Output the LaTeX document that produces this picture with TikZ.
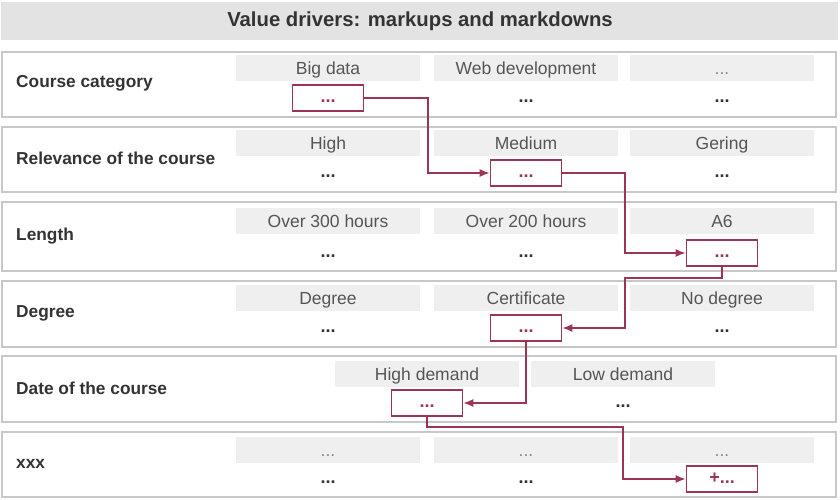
\documentclass[tikz,border=0pt]{standalone}
\usepackage{fontspec}
\setmainfont{Liberation Sans}
\usetikzlibrary{positioning,arrows.meta}
\definecolor{maroon}{HTML}{9C3552}
\definecolor{barfill}{HTML}{E3E3E3}
\definecolor{cellfill}{HTML}{EFEFEF}
\definecolor{rowline}{HTML}{C8C8C8}
\definecolor{darktext}{HTML}{333333}
\definecolor{celltext}{HTML}{555555}
\definecolor{faint}{HTML}{888888}

\tikzset{
  rowbox/.style={draw=rowline,line width=1.2pt},
  rowlabel/.style={anchor=west,inner sep=0pt,text=darktext,font=\fontsize{17.3}{18}\selectfont\bfseries},
  cell/.style={fill=cellfill,minimum width=184pt,minimum height=26pt,inner sep=0pt,text height=14.5pt,text depth=1.5pt,text=celltext,font=\fontsize{17.5}{18}\selectfont},
  dots/.style={minimum width=71pt,minimum height=26pt,inner sep=0pt,text height=8.5pt,text depth=0pt,text=darktext,font=\fontsize{18}{18}\selectfont\bfseries},
  pick/.style={dots,draw=maroon,line width=1.6pt,text=maroon},
  link/.style={maroon,line width=1.6pt,-{Latex[length=10pt,width=8pt]}}
}

\begin{document}
\begin{tikzpicture}[x=1pt,y=-1pt]
\useasboundingbox (0,0) rectangle (840,500);

% title
\fill[barfill] (1,2) rectangle (838,40);
\node (title) at (420,21) [text=darktext,font=\fontsize{20.3}{21}\selectfont\bfseries] {Value drivers: markups and markdowns};

% rows
\draw[rowbox] (2,52) rectangle (836,117);
\draw[rowbox] (2,127) rectangle (836,192);
\draw[rowbox] (2,202) rectangle (836,271);
\draw[rowbox] (2,281) rectangle (836,347);
\draw[rowbox] (2,356) rectangle (836,422);
\draw[rowbox] (2,432) rectangle (836,497);

\node[rowlabel] (lab1) at (16,83) {Course category};
\node[rowlabel] (lab2) at (16,158) {Relevance of the course};
\node[rowlabel] (lab3) at (16,236) {Length};
\node[rowlabel] (lab4) at (16,313) {Degree};
\node[rowlabel] (lab5) at (16,388) {Date of the course};
\node[rowlabel] (lab6) at (16,464) {xxx};

% course category
\node[cell] (c11) at (328,68) {Big data};
\node[cell] (c12) at (526,68) {Web development};
\node[cell,text=faint] (c13) at (722,68) {...};
\node[pick] (p1) at (328,98) {...};
\node[dots] (d12) at (526,98) {...};
\node[dots] (d13) at (722,98) {...};

% relevance
\node[cell] (c21) at (328,143) {High};
\node[cell] (c22) at (526,143) {Medium};
\node[cell] (c23) at (722,143) {Gering};
\node[dots] (d21) at (328,173) {...};
\node[pick] (p2) at (526,173) {...};
\node[dots] (d23) at (722,173) {...};

% length
\node[cell] (c31) at (328,221) {Over 300 hours};
\node[cell] (c32) at (526,221) {Over 200 hours};
\node[cell] (c33) at (722,221) {A6};
\node[dots] (d31) at (328,253) {...};
\node[dots] (d32) at (526,253) {...};
\node[pick] (p3) at (722,253) {...};

% degree
\node[cell] (c41) at (328,298) {Degree};
\node[cell] (c42) at (526,298) {Certificate};
\node[cell] (c43) at (722,298) {No degree};
\node[dots] (d41) at (328,328) {...};
\node[pick] (p4) at (526,328) {...};
\node[dots] (d43) at (722,328) {...};

% date
\node[cell] (c51) at (427,374) {High demand};
\node[cell] (c52) at (623,374) {Low demand};
\node[pick] (p5) at (427,403) {...};
\node[dots] (d52) at (623,403) {...};

% xxx
\node[cell,text=faint] (c61) at (328,450) {...};
\node[cell,text=faint] (c62) at (526,450) {...};
\node[cell,text=faint] (c63) at (722,450) {...};
\node[dots] (d61) at (328,479) {...};
\node[dots] (d62) at (526,479) {...};
\node[pick] (p6) at (722,479) {+...};

% bends
\coordinate (b1) at (428,173);
\coordinate (b2) at (625,253);
\coordinate (b3) at (625,328);
\coordinate (b5) at (623,479);

\draw[link] (p1.east) -| (b1) -- (p2.west);
\draw[link] (p2.east) -| (b2) -- (p3.west);
\draw[link] (p3.south) -- ++(0,11) -| (b3) -- (p4.east);
\draw[link] (p4.south) |- (p5.east);
\draw[link] (p5.south) -- ++(0,10) -| (b5) -- (p6.west);
\end{tikzpicture}
\end{document}
